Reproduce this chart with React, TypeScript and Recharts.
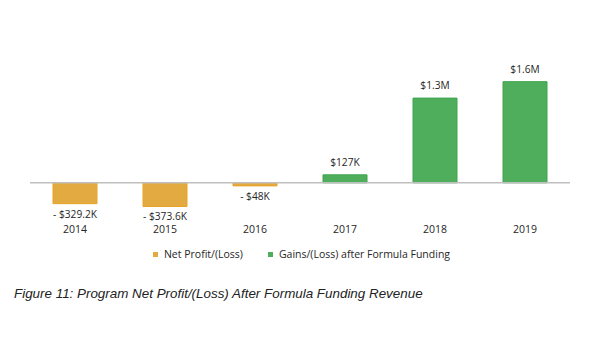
import React from "react";
import { BarChart, Bar, XAxis, YAxis, ReferenceLine, LabelList } from "recharts";

const years = ["2014", "2015", "2016", "2017", "2018", "2019"];
// values in thousands of dollars
const netProfit = [-329.2, -373.6, -48, null, null, null];
const gainsAfterFunding = [null, null, null, 127, 1340, 1600];

const seriesNames = ["Net Profit/(Loss)", "Gains/(Loss) after Formula Funding"];
const seriesColors = ["#E3AA42", "#4FAE5C"];
const seriesStrokes = ["#E9A225", "#3FA64F"];
const caption = "Figure 11: Program Net Profit/(Loss) After Formula Funding Revenue";

const data = years.map((y, i) => ({
  year: y,
  net: netProfit[i],
  gains: gainsAfterFunding[i],
}));

const FONT = "'Open Sans', 'Noto Sans', sans-serif";

const fmt = (v: number) => {
  const a = Math.abs(v);
  const s = a < 1000 ? `$${a}K` : `$${(a / 1000).toFixed(1)}M`;
  return v < 0 ? `- ${s}` : s;
};

const ValueLabel = (props: any) => {
  const { x, y, width, height, value } = props;
  if (value === null || value === undefined) return null;
  const top = Math.min(y, y + height);
  const bottom = Math.max(y, y + height);
  const cx = x + width / 2;
  const cy = value < 0 ? bottom + 10 : top - 13;
  return (
    <text
      x={cx}
      y={cy}
      textAnchor="middle"
      dominantBaseline="central"
      fontFamily={FONT}
      fontSize={10.2}
      fill="#262626"
    >
      {fmt(value)}
    </text>
  );
};

export default function App() {
  return (
    <div
      style={{
        position: "absolute",
        left: 0,
        top: 0,
        width: 600,
        height: 357,
        background: "#fff",
        overflow: "hidden",
      }}
    >
      <BarChart
        width={600}
        height={260}
        data={data}
        margin={{ top: 69, right: 30, left: 30, bottom: 13 }}
        barSize={44}
      >
        <XAxis
          dataKey="year"
          axisLine={false}
          tickLine={false}
          tick={{ fontFamily: FONT, fontSize: 10.5, fill: "#262626" }}
          tickMargin={3}
          interval={0}
        />
        <YAxis hide domain={[-540, 1800]} type="number" allowDataOverflow />
        <ReferenceLine y={0} stroke="#BFBFBF" strokeWidth={1.5} />
        <Bar
          dataKey="net"
          stackId="a"
          name={seriesNames[0]}
          fill={seriesColors[0]}
          stroke={seriesStrokes[0]}
          strokeWidth={1}
          isAnimationActive={false}
        >
          <LabelList dataKey="net" content={ValueLabel} />
        </Bar>
        <Bar
          dataKey="gains"
          stackId="a"
          name={seriesNames[1]}
          fill={seriesColors[1]}
          stroke={seriesStrokes[1]}
          strokeWidth={1}
          isAnimationActive={false}
        >
          <LabelList dataKey="gains" content={ValueLabel} />
        </Bar>
      </BarChart>
      <div
        style={{
          position: "absolute",
          top: 247,
          left: 0,
          width: 600,
          display: "flex",
          justifyContent: "center",
          fontFamily: FONT,
          fontSize: 10.5,
          color: "#262626",
          paddingLeft: 3,
          boxSizing: "border-box",
        }}
      >
        {seriesNames.map((n, i) => (
          <div
            key={n}
            style={{ display: "flex", alignItems: "center", marginRight: i === 0 ? 25 : 0 }}
          >
            <span
              style={{
                display: "inline-block",
                width: 5,
                height: 5,
                background: seriesColors[i],
                marginRight: 6,
              }}
            />
            <span>{n}</span>
          </div>
        ))}
      </div>
      <div
        style={{
          position: "absolute",
          top: 286,
          left: 14,
          fontFamily: "'Liberation Sans', Arial, sans-serif",
          fontStyle: "italic",
          fontSize: 13.4,
          color: "#222",
          whiteSpace: "nowrap",
        }}
      >
        {caption}
      </div>
    </div>
  );
}
